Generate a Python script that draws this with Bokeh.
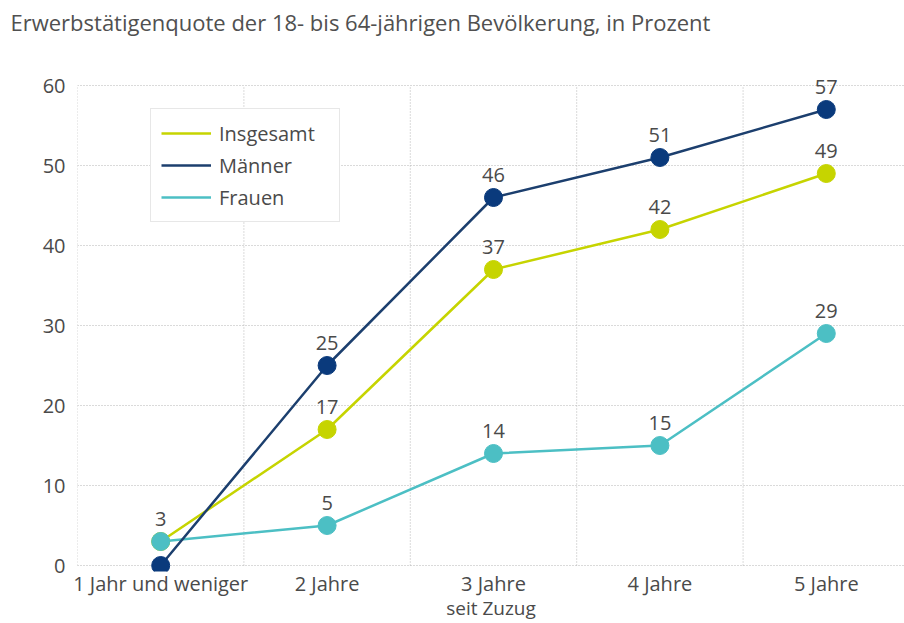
from bokeh.plotting import figure
from bokeh.models import (FixedTicker, Legend, LegendItem, ColumnDataSource, Title)
from bokeh.embed import file_html
from bokeh.resources import INLINE
from bokeh.core.properties import value

categories = ["1 Jahr und weniger", "2 Jahre", "3 Jahre", "4 Jahre", "5 Jahre"]
insgesamt = [3, 17, 37, 42, 49]
maenner = [0, 25, 46, 51, 57]
frauen = [3, 5, 14, 15, 29]
insgesamt_labels = ["3", "17", "37", "42", "49"]
maenner_labels = ["", "25", "46", "51", "57"]
frauen_labels = ["", "5", "14", "15", "29"]
y_ticks = [0, 10, 20, 30, 40, 50, 60]

FONT = "Open Sans"
TEXT = "#4a4a4a"
C_INS = "#c6d400"
C_MAE = "#0a3a7c"
C_MAE_LINE = "#1c3f6e"
C_FRA = "#4cbfc4"

xs = list(range(1, len(categories) + 1))
bounds = [i + 0.5 for i in range(len(categories) + 1)]

p = figure(width=904, height=623, output_backend="svg", toolbar_location=None,
           x_range=(0.5, 5.47), y_range=(-0.75, 63.0),
           min_border_left=77, min_border_right=0, min_border_top=61, min_border_bottom=52)
p.outline_line_color = None
p.background_fill_color = "white"
p.border_fill_color = "white"

# real title (outer), spacer title between it and the frame
p.title.text = "Erwerbstätigenquote der 18- bis 64-jährigen Bevölkerung, in Prozent"
p.title.text_font = FONT
p.title.text_font_size = "22px"
p.title.text_font_style = "normal"
p.title.text_color = "#505050"
p.title.offset = -67
p.title.standoff = 0
p.add_layout(Title(text=" ", text_font_size="10px", standoff=12), "above")

# axes
p.xaxis.ticker = FixedTicker(ticks=xs)
p.xaxis.major_label_overrides = {i: c for i, c in zip(xs, categories)}
p.yaxis.ticker = FixedTicker(ticks=y_ticks)
for ax in (p.xaxis[0], p.yaxis[0]):
    ax.axis_line_color = None
    ax.major_tick_line_color = None
    ax.minor_tick_line_color = None
    ax.major_tick_out = 0
    ax.major_tick_in = 0
    ax.minor_tick_out = 0
    ax.major_label_text_font = FONT
    ax.major_label_text_font_size = "20px"
    ax.major_label_text_color = TEXT
p.xaxis.major_label_standoff = -2
p.yaxis.major_label_standoff = 12
p.xaxis.axis_label = "seit Zuzug"
p.xaxis.axis_label_text_font = FONT
p.xaxis.axis_label_text_font_size = "19px"
p.xaxis.axis_label_text_font_style = "normal"
p.xaxis.axis_label_text_color = TEXT
p.xaxis.axis_label_standoff = -5

p.xgrid.grid_line_color = None
p.ygrid.grid_line_color = "#b5b5b5"
p.ygrid.grid_line_dash = "1 2"
p.ygrid.grid_line_width = 1

# vertical dotted grid between categories, spanning the tick range
p.segment(x0=bounds, x1=bounds, y0=[y_ticks[0]] * len(bounds), y1=[y_ticks[-1]] * len(bounds),
          line_color="#b5b5b5", line_dash="1 2", line_width=1)

# series
r_ins_l = p.line(xs, insgesamt, line_color=C_INS, line_width=2.5)
r_fra_l = p.line(xs, frauen, line_color=C_FRA, line_width=2.5)
r_mae_l = p.line(xs, maenner, line_color=C_MAE_LINE, line_width=2.5)
p.scatter(xs, insgesamt, size=18, fill_color=C_INS, line_color=C_INS)
p.scatter(xs, frauen, size=18, fill_color=C_FRA, line_color=C_FRA)
p.scatter(xs, maenner, size=18, fill_color=C_MAE, line_color=C_MAE)

for vals, labs in ((insgesamt, insgesamt_labels), (maenner, maenner_labels), (frauen, frauen_labels)):
    src = ColumnDataSource(dict(x=xs, y=vals, t=labs))
    p.text(x="x", y="y", text="t", source=src, text_font=value(FONT), text_font_size="20px",
           text_color=TEXT, text_align="center", text_baseline="bottom", y_offset=-16)

legend = Legend(items=[LegendItem(label="Insgesamt", renderers=[r_ins_l]),
                       LegendItem(label="Männer", renderers=[r_mae_l]),
                       LegendItem(label="Frauen", renderers=[r_fra_l])],
                location=(73, 349), orientation="vertical",
                label_text_font=FONT, label_text_font_size="20px", label_text_color=TEXT,
                glyph_width=50, glyph_height=28, label_height=28, label_width=110,
                label_standoff=8, spacing=4, padding=10, margin=0,
                border_line_color="#cfcfcf", border_line_width=1,
                background_fill_color="white", background_fill_alpha=1.0)
p.add_layout(legend, "center")

open("out.html", "w").write(file_html(p, INLINE))
